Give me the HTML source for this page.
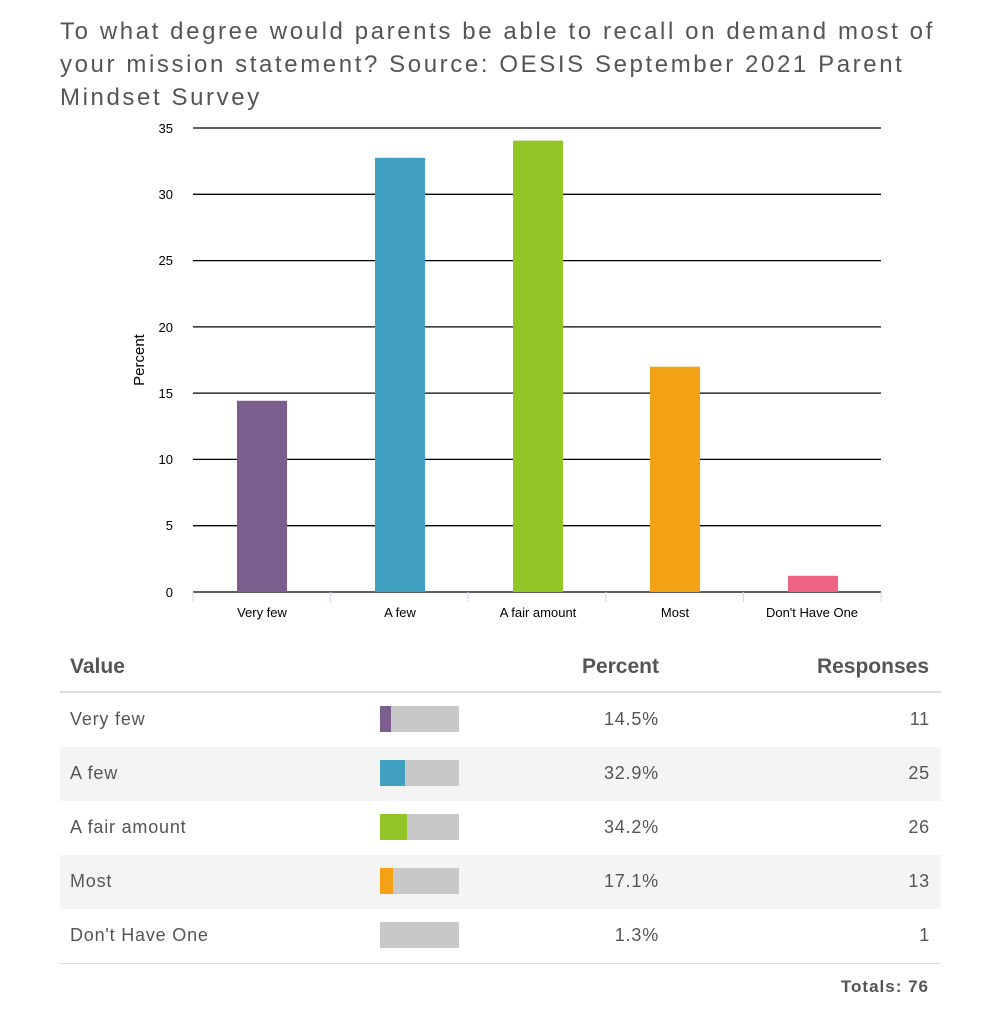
<!DOCTYPE html>
<html><head><meta charset="utf-8"><style>
body{margin:0;width:1000px;height:1024px;background:#fff;position:relative;font-family:"Liberation Sans",sans-serif;overflow:hidden}
.t{position:absolute;color:#555}
.title{left:60px;top:15px;font-size:24px;line-height:33px;letter-spacing:2.6px;color:#555;width:880px}
.row{position:absolute;left:60px;width:881px;height:54px}
.cell{position:absolute;font-size:18px;color:#555;top:16px;letter-spacing:.8px}
.mb{position:absolute;left:320px;top:13px;width:79px;height:26px;background:#c8c8c8}
.mb span{position:absolute;left:0;top:0;height:26px}
</style></head><body>
<div class="t title">To what degree would parents be able to recall on demand most of your mission statement? Source: OESIS September 2021 Parent Mindset Survey</div>
<svg width="1000" height="640" style="position:absolute;left:0;top:0" font-family="Liberation Sans, sans-serif">
<g stroke="#000" stroke-width="1.3">
<line x1="193" x2="881" y1="128" y2="128"/><line x1="193" x2="881" y1="194.3" y2="194.3"/>
<line x1="193" x2="881" y1="260.6" y2="260.6"/><line x1="193" x2="881" y1="326.9" y2="326.9"/>
<line x1="193" x2="881" y1="393.1" y2="393.1"/><line x1="193" x2="881" y1="459.4" y2="459.4"/>
<line x1="193" x2="881" y1="525.7" y2="525.7"/><line x1="193" x2="881" y1="592" y2="592"/>
</g>
<g stroke="#ccd6eb"><line x1="193" x2="193" y1="592" y2="602"/><line x1="330.6" x2="330.6" y1="592" y2="602"/><line x1="468.2" x2="468.2" y1="592" y2="602"/><line x1="605.8" x2="605.8" y1="592" y2="602"/><line x1="743.4" x2="743.4" y1="592" y2="602"/><line x1="881" x2="881" y1="592" y2="602"/></g>
<g font-size="13" fill="#000" text-anchor="end">
<text x="173" y="133">35</text><text x="173" y="199">30</text><text x="173" y="265">25</text><text x="173" y="332">20</text><text x="173" y="398">15</text><text x="173" y="464">10</text><text x="173" y="530">5</text><text x="173" y="597">0</text>
</g>
<text transform="translate(144,360) rotate(-90)" font-size="15" text-anchor="middle" fill="#000">Percent</text>
<rect x="237" y="400.8" width="50" height="191.2" fill="#7b5e8e"/>
<rect x="375" y="157.8" width="50" height="434.2" fill="#3fa0c0"/>
<rect x="513" y="140.6" width="50" height="451.4" fill="#92c626"/>
<rect x="650" y="366.7" width="50" height="225.3" fill="#f3a216"/>
<rect x="788" y="575.8" width="50" height="16.2" fill="#ec6384"/>
<g font-size="13" fill="#000" text-anchor="middle">
<text x="262" y="617">Very few</text><text x="400" y="617">A few</text><text x="538" y="617">A fair amount</text><text x="675" y="617">Most</text><text x="812" y="617">Don't Have One</text>
</g>
</svg>
<div class="t" style="left:70px;top:655px;font-size:21px;font-weight:bold;color:#555">Value</div>
<div class="t" style="left:520px;width:139px;text-align:right;top:655px;font-size:21px;font-weight:bold;color:#555">Percent</div>
<div class="t" style="left:760px;width:169px;text-align:right;top:655px;font-size:21px;font-weight:bold;color:#555">Responses</div>
<div style="position:absolute;left:60px;top:691px;width:881px;height:2px;background:#ddd"></div>
<div class="row" style="top:693px"><div class="cell" style="left:10px">Very few</div><div class="mb"><span style="width:11px;background:#7b5e8e"></span></div><div class="cell" style="right:282px">14.5%</div><div class="cell" style="right:11px">11</div></div>
<div class="row" style="top:747px;background:#f4f4f4"><div class="cell" style="left:10px">A few</div><div class="mb"><span style="width:25px;background:#3fa0c0"></span></div><div class="cell" style="right:282px">32.9%</div><div class="cell" style="right:11px">25</div></div>
<div class="row" style="top:801px"><div class="cell" style="left:10px">A fair amount</div><div class="mb"><span style="width:27px;background:#92c626"></span></div><div class="cell" style="right:282px">34.2%</div><div class="cell" style="right:11px">26</div></div>
<div class="row" style="top:855px;background:#f4f4f4"><div class="cell" style="left:10px">Most</div><div class="mb"><span style="width:13px;background:#f3a216"></span></div><div class="cell" style="right:282px">17.1%</div><div class="cell" style="right:11px">13</div></div>
<div class="row" style="top:909px"><div class="cell" style="left:10px">Don't Have One</div><div class="mb"></div><div class="cell" style="right:282px">1.3%</div><div class="cell" style="right:11px">1</div></div>
<div style="position:absolute;left:60px;top:963px;width:881px;height:1px;background:#ddd"></div>
<div class="t" style="left:760px;width:169px;text-align:right;top:977px;font-size:17px;font-weight:bold;letter-spacing:1px;color:#555">Totals: 76</div>
</body></html>
